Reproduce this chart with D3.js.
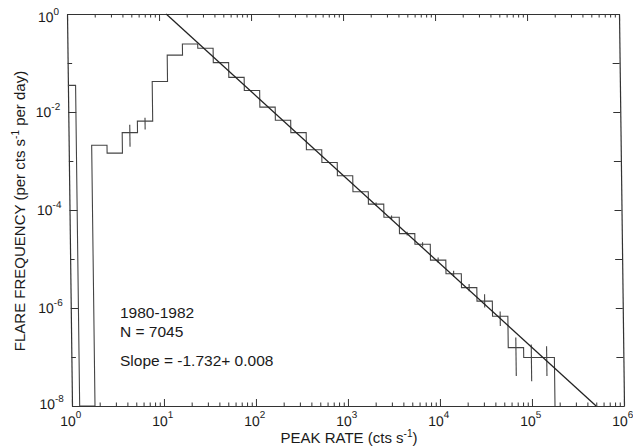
<!DOCTYPE html>
<html>
<head>
<meta charset="utf-8">
<script src="https://cdn.jsdelivr.net/npm/d3@7"></script>
<style>
  body { margin: 0; background: #fff; }
  svg { font-family: "Liberation Sans", Arial, Helvetica, sans-serif; }
</style>
</head>
<body>
<div id="chart"></div>
<script>
// histogram bins, six per decade (bin centres in cts/s)
const binCentres = [1, 1.468, 2.154, 3.162, 4.642, 6.813, 10, 14.68, 21.54, 31.62, 46.42, 68.13,
  100, 146.8, 215.4, 316.2, 464.2, 681.3, 1000, 1468, 2154, 3162, 4642, 6813,
  10000, 14680, 21540, 31620, 46420, 68130, 100000, 146800];
const binRatio = 1.2115; // half a bin, as a factor

// flare frequency per bin (per cts s^-1 per day), 0 = empty bin
const flareFreq = [3.5e-2, 0, 2.1e-3, 1.45e-3, 3.8e-3, 6.5e-3, 4.2e-2, 0.145, 0.245, 0.20, 0.102, 5.1e-2,
  2.75e-2, 1.26e-2, 6.8e-3, 3.8e-3, 1.7e-3, 9.3e-4, 5.0e-4, 2.35e-4, 1.32e-4, 7.1e-5, 3.3e-5, 2.0e-5,
  9.5e-6, 5.0e-6, 2.6e-6, 1.38e-6, 6.8e-7, 1.55e-7, 9.8e-8, 9.8e-8];

// error bars, null where they are too small to see
const errLow = [null, null, null, null, 1.95e-3, 4.4e-3, null, null, null, null, null, null,
  null, null, null, null, null, null, null, null, 1.22e-4, 6.5e-5, 3.0e-5, 1.8e-5,
  8.4e-6, 4.35e-6, 2.2e-6, 1.02e-6, 4.3e-7, 4.1e-8, 3.2e-8, 4.1e-8];
const errHigh = [null, null, null, null, 5.5e-3, 7.6e-3, null, null, null, null, null, null,
  null, null, null, null, null, null, null, null, 1.43e-4, 7.7e-5, 3.6e-5, 2.2e-5,
  1.07e-5, 5.75e-6, 3.1e-6, 1.9e-6, 8.5e-7, 2.5e-7, 1.8e-7, 1.66e-7];

// power-law fit, drawn between the frame edges
const fitRates = [11.97, 4.98e5];
const fitValues = [1, 1e-8];

const xTickValues = [1, 10, 100, 1e3, 1e4, 1e5, 1e6];
const yTickValues = [1, 1e-1, 1e-2, 1e-3, 1e-4, 1e-5, 1e-6, 1e-7, 1e-8];
const yLabelValues = [1, 1e-2, 1e-4, 1e-6, 1e-8];

const notes = ['1980-1982', 'N = 7045', 'Slope = -1.732+ 0.008'];

let width = 552, height = 392;
const ink = '#333';

const svg = d3.select('#chart').append('svg')
    .attr('width', 633).attr('height', 447);

// the scanned figure is slightly sheared, so the frame is skewed a little
let plot = svg.append('g')
    .attr('transform', 'translate(72,406) skewX(0.73)')
  .append('g')
    .attr('transform', `translate(0,${-height})`);

let x = d3.scaleLog().domain([1, 1e6]).range([0, width]);
let y = d3.scaleLog().domain([1e-8, 1]).range([height, 0]);

// minor ticks 2..9 in each decade
let minorX = [];
for (let e = 0; e < 6; e++) {
    for (let m = 2; m < 10; m++) minorX.push(m * Math.pow(10, e));
}

function addAxis(axis, transform) {
    let g = plot.append('g').attr('transform', transform).call(axis);
    g.attr('font-family', null).attr('font-size', null);
    g.select('.domain').attr('stroke', ink).attr('stroke-width', 1.2);
    g.selectAll('.tick line').attr('stroke', ink);
    return g;
}

// writes 10 with a raised exponent into each tick label
function powerLabels(g, raise) {
    g.selectAll('.tick text').each(function(d) {
        let t = d3.select(this).text(null).attr('fill', '#1a1a1a').attr('font-size', 14);
        t.append('tspan').text('10');
        t.append('tspan').attr('font-size', 10).attr('dy', -raise)
            .text(String(Math.round(Math.log10(d))));
    });
}

// bottom
let xMajor = addAxis(d3.axisBottom(x).tickValues(xTickValues).tickSizeInner(-7)
    .tickSizeOuter(0).tickPadding(10), `translate(0,${height})`);
powerLabels(xMajor, 8);
xMajor.selectAll('.tick text').attr('dx', -2);
addAxis(d3.axisBottom(x).tickValues(minorX).tickSize(-3.5).tickFormat(''),
    `translate(0,${height})`).select('.domain').remove();

// top
addAxis(d3.axisTop(x).tickValues(xTickValues).tickSizeInner(-7).tickSizeOuter(0)
    .tickFormat(''), 'translate(0,0)');
addAxis(d3.axisTop(x).tickValues(minorX).tickSize(-3.5).tickFormat(''), 'translate(0,0)')
    .select('.domain').remove();

// left
let yAxis = addAxis(d3.axisLeft(y).tickValues(yTickValues).tickSizeInner(-8)
    .tickSizeOuter(0).tickPadding(8)
    .tickFormat(d => yLabelValues.indexOf(d) >= 0 ? d : ''), 'translate(0,0)');
yAxis.selectAll('.tick line')
    .attr('x2', d => yLabelValues.indexOf(d) >= 0 ? 8 : 4.5);
yAxis.selectAll('.tick').filter(d => yLabelValues.indexOf(d) < 0).select('text').remove();
powerLabels(yAxis, 7);
yAxis.selectAll('.tick text').attr('dy', d => d === 1 ? '0.55em' : (d === 1e-8 ? '0.15em' : '0.32em'));

// right
addAxis(d3.axisRight(y).tickValues(yTickValues).tickSizeInner(-7).tickSizeOuter(0)
    .tickFormat(''), `translate(${width},0)`);

// data
plot.append('clipPath').attr('id', 'frame-clip')
  .append('rect').attr('width', width).attr('height', height);

let stepPoints = [[x(binCentres[0] / binRatio), height]];
binCentres.forEach(function(c, i) {
    let v = flareFreq[i];
    let yy = v > 0 ? y(v) : height;
    stepPoints.push([x(c / binRatio), yy], [x(c * binRatio), yy]);
});
stepPoints.push([x(binCentres[binCentres.length - 1] * binRatio), height]);

plot.append('path')
    .attr('clip-path', 'url(#frame-clip)')
    .attr('d', d3.line()(stepPoints))
    .attr('fill', 'none')
    .attr('stroke', '#444')
    .attr('stroke-width', 1.1);

let bars = binCentres.map((c, i) => ({c: c, lo: errLow[i], hi: errHigh[i]}))
    .filter(d => d.lo !== null);
plot.selectAll('.err')
    .data(bars)
    .enter().append('line')
    .attr('class', 'err')
    .attr('x1', d => x(d.c)).attr('x2', d => x(d.c))
    .attr('y1', d => y(d.lo)).attr('y2', d => y(d.hi))
    .attr('stroke', '#444')
    .attr('stroke-width', 1.1);

plot.append('path')
    .attr('d', d3.line().x(d => x(d[0])).y(d => y(d[1]))(fitRates.map((r, i) => [r, fitValues[i]])))
    .attr('fill', 'none')
    .attr('stroke', '#222')
    .attr('stroke-width', 1.3);

// notes in the lower left
svg.selectAll('.note')
    .data(notes)
    .enter().append('text')
    .attr('class', 'note')
    .attr('x', 120)
    .attr('y', (d, i) => [318, 337, 366][i])
    .attr('font-size', 15.5)
    .attr('fill', '#1a1a1a')
    .text(d => d);

// axis titles
let xTitle = svg.append('text')
    .attr('x', 349).attr('y', 443)
    .attr('text-anchor', 'middle')
    .attr('font-size', 15)
    .attr('fill', '#1a1a1a');
xTitle.append('tspan').text('PEAK RATE (cts s');
xTitle.append('tspan').attr('font-size', 10).attr('dy', -6).text('-1');
xTitle.append('tspan').attr('dy', 6).text(')');

let yTitle = svg.append('text')
    .attr('transform', 'translate(25,211) rotate(-90)')
    .attr('text-anchor', 'middle')
    .attr('font-size', 15)
    .attr('fill', '#1a1a1a');
yTitle.append('tspan').text('FLARE FREQUENCY (per cts s');
yTitle.append('tspan').attr('font-size', 10).attr('dy', -6).text('-1');
yTitle.append('tspan').attr('dy', 6).text(' per day)');
</script>
</body>
</html>
